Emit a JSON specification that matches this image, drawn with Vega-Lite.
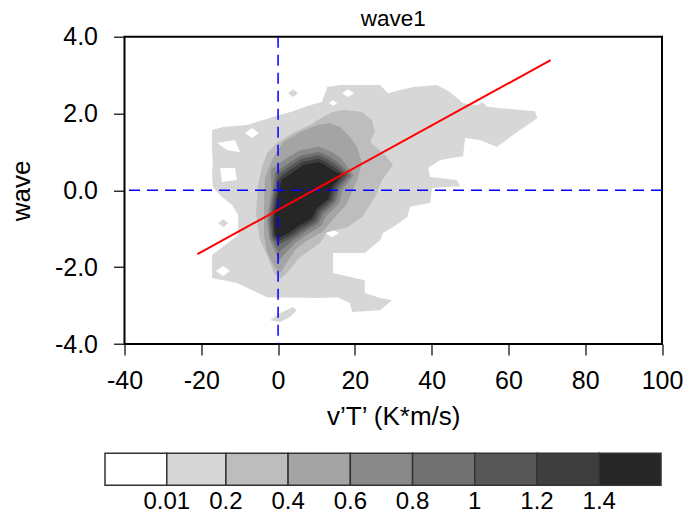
{
  "$schema": "https://vega.github.io/schema/vega-lite/v6.json",
  "width": 537.5,
  "height": 307.3,
  "autosize": {"type": "none"},
  "padding": {"left": 124.5, "top": 36.7, "right": 26, "bottom": 178},
  "background": "white",
  "config": {
    "font": "Liberation Sans",
    "view": {"stroke": "black", "strokeWidth": 2},
    "axis": {"domain": false, "grid": false, "labelFont": "Liberation Sans", "labelFontSize": 25, "labelColor": "black", "titleFont": "Liberation Sans", "titleFontSize": 26, "titleFontWeight": "normal", "titleColor": "black", "tickColor": "black", "tickWidth": 1.2, "labelOverlap": false, "labelFlush": false},
    "legend": {"gradientHorizontalMaxLength": 600, "gradientHorizontalMinLength": 100, "gradientLength": 556, "gradientThickness": 32, "gradientStrokeColor": "#333333", "gradientStrokeWidth": 1.5, "labelOverlap": false}
  },
  "title": {"text": "wave1", "fontSize": 22.5, "fontWeight": "normal", "font": "Liberation Sans", "color": "black", "anchor": "middle", "offset": -6},
  "datasets": {
    "poly": [
      {"p":"a0","lv":0.01,"i":0,"x":-17.2,"y":1.57},{"p":"a0","lv":0.01,"i":1,"x":-14.3,"y":1.65},{"p":"a0","lv":0.01,"i":2,"x":-8.1,"y":1.70},{"p":"a0","lv":0.01,"i":3,"x":-3.9,"y":1.83},{"p":"a0","lv":0.01,"i":4,"x":-0.3,"y":1.94},{"p":"a0","lv":0.01,"i":5,"x":3.9,"y":2.06},{"p":"a0","lv":0.01,"i":6,"x":7.8,"y":2.20},{"p":"a0","lv":0.01,"i":7,"x":11.4,"y":2.30},{"p":"a0","lv":0.01,"i":8,"x":12.8,"y":2.69},{"p":"a0","lv":0.01,"i":9,"x":16.1,"y":2.74},
      {"p":"a0","lv":0.01,"i":10,"x":26.6,"y":2.74},{"p":"a0","lv":0.01,"i":11,"x":28.6,"y":2.53},{"p":"a0","lv":0.01,"i":12,"x":31.8,"y":2.61},{"p":"a0","lv":0.01,"i":13,"x":35.2,"y":2.69},{"p":"a0","lv":0.01,"i":14,"x":41.4,"y":2.74},{"p":"a0","lv":0.01,"i":15,"x":44.8,"y":2.56},{"p":"a0","lv":0.01,"i":16,"x":48.2,"y":2.27},{"p":"a0","lv":0.01,"i":17,"x":57.8,"y":2.14},{"p":"a0","lv":0.01,"i":18,"x":66.9,"y":2.06},{"p":"a0","lv":0.01,"i":19,"x":67.5,"y":1.88},
      {"p":"a0","lv":0.01,"i":20,"x":61.2,"y":1.44},{"p":"a0","lv":0.01,"i":21,"x":57.0,"y":1.13},{"p":"a0","lv":0.01,"i":22,"x":52.6,"y":1.31},{"p":"a0","lv":0.01,"i":23,"x":48.7,"y":1.36},{"p":"a0","lv":0.01,"i":24,"x":48.2,"y":0.89},{"p":"a0","lv":0.01,"i":25,"x":42.2,"y":0.79},{"p":"a0","lv":0.01,"i":26,"x":39.1,"y":0.58},{"p":"a0","lv":0.01,"i":27,"x":39.6,"y":0.35},{"p":"a0","lv":0.01,"i":28,"x":46.6,"y":0.27},{"p":"a0","lv":0.01,"i":29,"x":47.4,"y":0.11},
      {"p":"a0","lv":0.01,"i":30,"x":40.1,"y":0.06},{"p":"a0","lv":0.01,"i":31,"x":39.6,"y":-0.33},{"p":"a0","lv":0.01,"i":32,"x":34.4,"y":-0.43},{"p":"a0","lv":0.01,"i":33,"x":33.6,"y":-0.70},{"p":"a0","lv":0.01,"i":34,"x":29.9,"y":-0.96},{"p":"a0","lv":0.01,"i":35,"x":27.3,"y":-1.11},{"p":"a0","lv":0.01,"i":36,"x":26.6,"y":-1.29},{"p":"a0","lv":0.01,"i":37,"x":22.6,"y":-1.63},{"p":"a0","lv":0.01,"i":38,"x":14.3,"y":-1.63},{"p":"a0","lv":0.01,"i":39,"x":14.3,"y":-2.15},
      {"p":"a0","lv":0.01,"i":40,"x":22.6,"y":-2.34},{"p":"a0","lv":0.01,"i":41,"x":22.6,"y":-2.67},{"p":"a0","lv":0.01,"i":42,"x":26.6,"y":-2.80},{"p":"a0","lv":0.01,"i":43,"x":29.7,"y":-2.86},{"p":"a0","lv":0.01,"i":44,"x":26.6,"y":-3.12},{"p":"a0","lv":0.01,"i":45,"x":19.3,"y":-3.17},{"p":"a0","lv":0.01,"i":46,"x":18.7,"y":-2.93},{"p":"a0","lv":0.01,"i":47,"x":15.4,"y":-2.78},{"p":"a0","lv":0.01,"i":48,"x":10.9,"y":-2.80},{"p":"a0","lv":0.01,"i":49,"x":-2.9,"y":-2.78},
      {"p":"a0","lv":0.01,"i":50,"x":-10.7,"y":-2.41},{"p":"a0","lv":0.01,"i":51,"x":-17.2,"y":-2.28},{"p":"a0","lv":0.01,"i":52,"x":-17.2,"y":-1.68},{"p":"a0","lv":0.01,"i":53,"x":-13.8,"y":-1.42},{"p":"a0","lv":0.01,"i":54,"x":-10.4,"y":-1.16},{"p":"a0","lv":0.01,"i":55,"x":-10.4,"y":-0.64},{"p":"a0","lv":0.01,"i":56,"x":-12.0,"y":-0.38},{"p":"a0","lv":0.01,"i":57,"x":-14.6,"y":-0.17},{"p":"a0","lv":0.01,"i":58,"x":-17.0,"y":0.09},{"p":"a0","lv":0.01,"i":59,"x":-17.2,"y":0.45},
      {"p":"a0","lv":0.01,"i":60,"x":-17.0,"y":0.71},{"p":"a0","lv":0.01,"i":61,"x":-17.2,"y":1.05},
      {"p":"a1","lv":0.01,"i":0,"x":-15.6,"y":-0.85},{"p":"a1","lv":0.01,"i":1,"x":-14.3,"y":-0.75},{"p":"a1","lv":0.01,"i":2,"x":-13.0,"y":-0.85},{"p":"a1","lv":0.01,"i":3,"x":-14.3,"y":-0.96},
      {"p":"a2","lv":0.01,"i":0,"x":2.6,"y":2.53},{"p":"a2","lv":0.01,"i":1,"x":3.9,"y":2.63},{"p":"a2","lv":0.01,"i":2,"x":5.2,"y":2.53},{"p":"a2","lv":0.01,"i":3,"x":3.9,"y":2.43},
      {"p":"a3","lv":0.01,"i":0,"x":52.1,"y":2.22},{"p":"a3","lv":0.01,"i":1,"x":53.1,"y":2.30},{"p":"a3","lv":0.01,"i":2,"x":54.2,"y":2.22},{"p":"a3","lv":0.01,"i":3,"x":53.1,"y":2.14},
      {"p":"a4","lv":0.01,"i":0,"x":-2.1,"y":-3.38},{"p":"a4","lv":0.01,"i":1,"x":0.5,"y":-3.20},{"p":"a4","lv":0.01,"i":2,"x":3.9,"y":-3.04},{"p":"a4","lv":0.01,"i":3,"x":4.9,"y":-3.12},{"p":"a4","lv":0.01,"i":4,"x":3.1,"y":-3.30},{"p":"a4","lv":0.01,"i":5,"x":0.5,"y":-3.43},
      {"p":"b1","lv":0,"i":0,"x":-16.2,"y":-2.10},{"p":"b1","lv":0,"i":1,"x":-14.3,"y":-1.97},{"p":"b1","lv":0,"i":2,"x":-12.5,"y":-2.10},{"p":"b1","lv":0,"i":3,"x":-14.3,"y":-2.23},
      {"p":"b2","lv":0,"i":0,"x":-15.9,"y":1.23},{"p":"b2","lv":0,"i":1,"x":-11.2,"y":1.31},{"p":"b2","lv":0,"i":2,"x":-9.9,"y":0.99},{"p":"b2","lv":0,"i":3,"x":-13.3,"y":1.05},
      {"p":"b3","lv":0,"i":0,"x":-8.6,"y":1.49},{"p":"b3","lv":0,"i":1,"x":-6.8,"y":1.62},{"p":"b3","lv":0,"i":2,"x":-5.0,"y":1.49},{"p":"b3","lv":0,"i":3,"x":-6.8,"y":1.36},
      {"p":"b4","lv":0,"i":0,"x":-15.1,"y":0.58},{"p":"b4","lv":0,"i":1,"x":-11.2,"y":0.58},{"p":"b4","lv":0,"i":2,"x":-10.7,"y":0.27},{"p":"b4","lv":0,"i":3,"x":-14.6,"y":0.22},
      {"p":"b5","lv":0,"i":0,"x":16.7,"y":2.53},{"p":"b5","lv":0,"i":1,"x":18.2,"y":2.63},{"p":"b5","lv":0,"i":2,"x":19.8,"y":2.53},{"p":"b5","lv":0,"i":3,"x":18.2,"y":2.43},
      {"p":"b6","lv":0,"i":0,"x":13.3,"y":2.27},{"p":"b6","lv":0,"i":1,"x":14.3,"y":2.35},{"p":"b6","lv":0,"i":2,"x":15.4,"y":2.27},{"p":"b6","lv":0,"i":3,"x":14.3,"y":2.20},
      {"p":"b7","lv":0,"i":0,"x":12.2,"y":-1.11},{"p":"b7","lv":0,"i":1,"x":14.05,"y":-1.01},{"p":"b7","lv":0,"i":2,"x":15.9,"y":-1.11},{"p":"b7","lv":0,"i":3,"x":14.05,"y":-1.22},
      {"p":"c2","lv":0.2,"i":0,"x":-5.23,"y":0.14},{"p":"c2","lv":0.2,"i":1,"x":-4.19,"y":0.61},{"p":"c2","lv":0.2,"i":2,"x":-2.88,"y":0.97},{"p":"c2","lv":0.2,"i":3,"x":-0.28,"y":1.23},{"p":"c2","lv":0.2,"i":4,"x":3.89,"y":1.49},{"p":"c2","lv":0.2,"i":5,"x":8.32,"y":1.70},{"p":"c2","lv":0.2,"i":6,"x":11.71,"y":1.91},{"p":"c2","lv":0.2,"i":7,"x":14.05,"y":2.04},{"p":"c2","lv":0.2,"i":8,"x":17.44,"y":2.09},{"p":"c2","lv":0.2,"i":9,"x":21.86,"y":2.04},
      {"p":"c2","lv":0.2,"i":10,"x":24.47,"y":1.83},{"p":"c2","lv":0.2,"i":11,"x":25.25,"y":1.52},{"p":"c2","lv":0.2,"i":12,"x":23.95,"y":1.26},{"p":"c2","lv":0.2,"i":13,"x":27.85,"y":0.92},{"p":"c2","lv":0.2,"i":14,"x":29.93,"y":0.66},{"p":"c2","lv":0.2,"i":15,"x":27.08,"y":0.27},{"p":"c2","lv":0.2,"i":16,"x":25.25,"y":-0.17},{"p":"c2","lv":0.2,"i":17,"x":21.86,"y":-0.70},{"p":"c2","lv":0.2,"i":18,"x":17.96,"y":-0.96},{"p":"c2","lv":0.2,"i":19,"x":12.75,"y":-1.09},
      {"p":"c2","lv":0.2,"i":20,"x":10.93,"y":-1.37},{"p":"c2","lv":0.2,"i":21,"x":5.71,"y":-1.74},{"p":"c2","lv":0.2,"i":22,"x":2.33,"y":-2.15},{"p":"c2","lv":0.2,"i":23,"x":0.50,"y":-2.31},{"p":"c2","lv":0.2,"i":24,"x":-1.06,"y":-2.15},{"p":"c2","lv":0.2,"i":25,"x":-2.62,"y":-1.74},{"p":"c2","lv":0.2,"i":26,"x":-4.71,"y":-1.29},{"p":"c2","lv":0.2,"i":27,"x":-5.75,"y":-0.59},
      {"p":"c4","lv":0.4,"i":0,"x":-3.40,"y":0.32},{"p":"c4","lv":0.4,"i":1,"x":-1.58,"y":0.79},{"p":"c4","lv":0.4,"i":2,"x":1.29,"y":1.26},{"p":"c4","lv":0.4,"i":3,"x":5.71,"y":1.52},{"p":"c4","lv":0.4,"i":4,"x":10.14,"y":1.70},{"p":"c4","lv":0.4,"i":5,"x":13.53,"y":1.75},{"p":"c4","lv":0.4,"i":6,"x":16.13,"y":1.65},{"p":"c4","lv":0.4,"i":7,"x":18.74,"y":1.39},{"p":"c4","lv":0.4,"i":8,"x":20.56,"y":1.13},{"p":"c4","lv":0.4,"i":9,"x":21.86,"y":0.71},
      {"p":"c4","lv":0.4,"i":10,"x":20.82,"y":0.35},{"p":"c4","lv":0.4,"i":11,"x":19.26,"y":-0.04},{"p":"c4","lv":0.4,"i":12,"x":17.70,"y":-0.38},{"p":"c4","lv":0.4,"i":13,"x":14.57,"y":-0.72},{"p":"c4","lv":0.4,"i":14,"x":11.45,"y":-1.09},{"p":"c4","lv":0.4,"i":15,"x":7.28,"y":-1.32},{"p":"c4","lv":0.4,"i":16,"x":4.67,"y":-1.53},{"p":"c4","lv":0.4,"i":17,"x":2.33,"y":-1.87},{"p":"c4","lv":0.4,"i":18,"x":0.77,"y":-2.13},{"p":"c4","lv":0.4,"i":19,"x":-0.80,"y":-2.02},
      {"p":"c4","lv":0.4,"i":20,"x":-2.88,"y":-1.61},{"p":"c4","lv":0.4,"i":21,"x":-3.66,"y":-1.16},{"p":"c4","lv":0.4,"i":22,"x":-3.66,"y":-0.38},
      {"p":"c6","lv":0.6,"i":0,"x":-1.81,"y":0.54},{"p":"c6","lv":0.6,"i":1,"x":2.02,"y":0.82},{"p":"c6","lv":0.6,"i":2,"x":5.40,"y":1.03},{"p":"c6","lv":0.6,"i":3,"x":10.48,"y":1.14},{"p":"c6","lv":0.6,"i":4,"x":13.79,"y":1.01},{"p":"c6","lv":0.6,"i":5,"x":16.34,"y":0.84},{"p":"c6","lv":0.6,"i":6,"x":19.70,"y":0.40},{"p":"c6","lv":0.6,"i":7,"x":16.78,"y":0.00},{"p":"c6","lv":0.6,"i":8,"x":15.90,"y":-0.33},{"p":"c6","lv":0.6,"i":9,"x":12.56,"y":-0.66},
      {"p":"c6","lv":0.6,"i":10,"x":11.26,"y":-0.92},{"p":"c6","lv":0.6,"i":11,"x":7.28,"y":-1.17},{"p":"c6","lv":0.6,"i":12,"x":4.23,"y":-1.39},{"p":"c6","lv":0.6,"i":13,"x":0.24,"y":-1.82},{"p":"c6","lv":0.6,"i":14,"x":-2.26,"y":-1.27},{"p":"c6","lv":0.6,"i":15,"x":-2.88,"y":-0.77},{"p":"c6","lv":0.6,"i":16,"x":-2.36,"y":-0.43},{"p":"c6","lv":0.6,"i":17,"x":-1.76,"y":-0.04},
      {"p":"c8","lv":0.8,"i":0,"x":-0.85,"y":0.45},{"p":"c8","lv":0.8,"i":1,"x":2.67,"y":0.70},{"p":"c8","lv":0.8,"i":2,"x":5.79,"y":0.90},{"p":"c8","lv":0.8,"i":3,"x":10.48,"y":1.00},{"p":"c8","lv":0.8,"i":4,"x":13.27,"y":0.89},{"p":"c8","lv":0.8,"i":5,"x":15.69,"y":0.73},{"p":"c8","lv":0.8,"i":6,"x":18.92,"y":0.40},{"p":"c8","lv":0.8,"i":7,"x":15.92,"y":0.03},{"p":"c8","lv":0.8,"i":8,"x":15.04,"y":-0.29},{"p":"c8","lv":0.8,"i":9,"x":11.81,"y":-0.60},
      {"p":"c8","lv":0.8,"i":10,"x":10.51,"y":-0.86},{"p":"c8","lv":0.8,"i":11,"x":6.81,"y":-1.09},{"p":"c8","lv":0.8,"i":12,"x":3.76,"y":-1.31},{"p":"c8","lv":0.8,"i":13,"x":0.11,"y":-1.61},{"p":"c8","lv":0.8,"i":14,"x":-1.87,"y":-1.24},{"p":"c8","lv":0.8,"i":15,"x":-2.39,"y":-0.77},{"p":"c8","lv":0.8,"i":16,"x":-1.87,"y":-0.43},{"p":"c8","lv":0.8,"i":17,"x":-1.27,"y":-0.05},
      {"p":"d0","lv":1.0,"i":0,"x":-0.25,"y":0.39},{"p":"d0","lv":1.0,"i":1,"x":3.11,"y":0.63},{"p":"d0","lv":1.0,"i":2,"x":6.05,"y":0.82},{"p":"d0","lv":1.0,"i":3,"x":10.48,"y":0.92},{"p":"d0","lv":1.0,"i":4,"x":12.90,"y":0.81},{"p":"d0","lv":1.0,"i":5,"x":15.25,"y":0.66},{"p":"d0","lv":1.0,"i":6,"x":18.14,"y":0.40},{"p":"d0","lv":1.0,"i":7,"x":15.27,"y":0.05},{"p":"d0","lv":1.0,"i":8,"x":14.39,"y":-0.27},{"p":"d0","lv":1.0,"i":9,"x":11.24,"y":-0.56},
      {"p":"d0","lv":1.0,"i":10,"x":9.93,"y":-0.82},{"p":"d0","lv":1.0,"i":11,"x":6.44,"y":-1.03},{"p":"d0","lv":1.0,"i":12,"x":3.40,"y":-1.24},{"p":"d0","lv":1.0,"i":13,"x":0.06,"y":-1.42},{"p":"d0","lv":1.0,"i":14,"x":-1.50,"y":-1.22},{"p":"d0","lv":1.0,"i":15,"x":-1.94,"y":-0.77},{"p":"d0","lv":1.0,"i":16,"x":-1.42,"y":-0.43},{"p":"d0","lv":1.0,"i":17,"x":-0.82,"y":-0.06},
      {"p":"d2","lv":1.2,"i":0,"x":0.35,"y":0.33},{"p":"d2","lv":1.2,"i":1,"x":3.53,"y":0.56},{"p":"d2","lv":1.2,"i":2,"x":6.31,"y":0.74},{"p":"d2","lv":1.2,"i":3,"x":10.48,"y":0.83},{"p":"d2","lv":1.2,"i":4,"x":12.56,"y":0.74},{"p":"d2","lv":1.2,"i":5,"x":14.83,"y":0.58},{"p":"d2","lv":1.2,"i":6,"x":17.36,"y":0.40},{"p":"d2","lv":1.2,"i":7,"x":14.62,"y":0.07},{"p":"d2","lv":1.2,"i":8,"x":13.74,"y":-0.24},{"p":"d2","lv":1.2,"i":9,"x":10.64,"y":-0.51},
      {"p":"d2","lv":1.2,"i":10,"x":9.34,"y":-0.77},{"p":"d2","lv":1.2,"i":11,"x":6.08,"y":-0.97},{"p":"d2","lv":1.2,"i":12,"x":3.03,"y":-1.18},{"p":"d2","lv":1.2,"i":13,"x":0.06,"y":-1.33},{"p":"d2","lv":1.2,"i":14,"x":-1.16,"y":-1.19},{"p":"d2","lv":1.2,"i":15,"x":-1.50,"y":-0.77},{"p":"d2","lv":1.2,"i":16,"x":-0.98,"y":-0.43},{"p":"d2","lv":1.2,"i":17,"x":-0.38,"y":-0.07},
      {"p":"d4","lv":1.4,"i":0,"x":0.95,"y":0.27},{"p":"d4","lv":1.4,"i":1,"x":3.97,"y":0.48},{"p":"d4","lv":1.4,"i":2,"x":6.57,"y":0.66},{"p":"d4","lv":1.4,"i":3,"x":10.48,"y":0.74},{"p":"d4","lv":1.4,"i":4,"x":12.23,"y":0.66},{"p":"d4","lv":1.4,"i":5,"x":14.39,"y":0.51},{"p":"d4","lv":1.4,"i":6,"x":16.58,"y":0.40},{"p":"d4","lv":1.4,"i":7,"x":13.97,"y":0.09},{"p":"d4","lv":1.4,"i":8,"x":13.09,"y":-0.21},{"p":"d4","lv":1.4,"i":9,"x":10.06,"y":-0.47},
      {"p":"d4","lv":1.4,"i":10,"x":8.76,"y":-0.73},{"p":"d4","lv":1.4,"i":11,"x":5.71,"y":-0.90},{"p":"d4","lv":1.4,"i":12,"x":2.67,"y":-1.12},{"p":"d4","lv":1.4,"i":13,"x":0.06,"y":-1.25},{"p":"d4","lv":1.4,"i":14,"x":-0.80,"y":-1.16},{"p":"d4","lv":1.4,"i":15,"x":-1.06,"y":-0.77},{"p":"d4","lv":1.4,"i":16,"x":-0.54,"y":-0.43},{"p":"d4","lv":1.4,"i":17,"x":0.06,"y":-0.08}
    ]
  },
  "layer": [
    {
      "data": {"name": "poly"},
      "encoding": {
        "x": {"field": "x", "type": "quantitative", "scale": {"domain": [-40, 100], "nice": false, "zero": false},
              "axis": {"title": "v’T’ (K*m/s)", "values": [-40,-35,-30,-25,-20,-15,-10,-5,0,5,10,15,20,25,30,35,40,45,50,55,60,65,70,75,80,85,90,95,100],
                       "labelExpr": "datum.value % 20 == 0 ? (datum.value < 0 ? '-' : '') + abs(datum.value) : ''",
                       "tickSize": {"condition": {"test": "datum.value % 20 == 0", "value": 11}, "value": 6},
                       "labelPadding": 13, "titlePadding": 10}},
        "y": {"field": "y", "type": "quantitative", "scale": {"domain": [-4, 4], "nice": false, "zero": false},
              "axis": {"title": "wave", "values": [-4,-3.5,-3,-2.5,-2,-1.5,-1,-0.5,0,0.5,1,1.5,2,2.5,3,3.5,4],
                       "labelExpr": "datum.value % 2 == 0 ? (datum.value < 0 ? '-' : '') + format(abs(datum.value), '.1f') : ''",
                       "tickSize": {"condition": {"test": "datum.value % 2 == 0", "value": 11}, "value": 6},
                       "labelPadding": 16, "titlePadding": 20}},
        "color": {"field": "lv", "type": "quantitative",
                  "scale": {"type": "threshold", "domain": [0.01, 0.2, 0.4, 0.6, 0.8, 1, 1.2, 1.4],
                            "range": ["#ffffff", "#d7d7d7", "#bdbdbd", "#a4a4a4", "#8a8a8a", "#717171", "#575757", "#3e3e3e", "#262626"]},
                  "legend": {"type": "gradient", "orient": "none", "legendX": -19.5, "legendY": 416.6, "direction": "horizontal", "gradientLength": 556, "gradientThickness": 32,
                             "title": null, "padding": 0, "labelFont": "Liberation Sans", "labelFontSize": 24, "labelColor": "black",
                             "gradientStrokeColor": "#333333", "gradientStrokeWidth": 1.5, "labelOffset": 5, "labelOverlap": false,
                             "labelExpr": "isFinite(datum.value) ? format(datum.value, '~g') : ''"}},
        "detail": {"field": "p"},
        "order": {"field": "i", "type": "quantitative"}
      },
      "layer": [
        {"transform": [{"filter": "datum.lv == 0.01"}], "mark": {"type": "line", "filled": true}},
        {"transform": [{"filter": "datum.lv == 0"}], "mark": {"type": "line", "filled": true}},
        {"transform": [{"filter": "datum.lv >= 0.2"}], "mark": {"type": "line", "filled": true}}
      ]
    },
    {
      "data": {"values": [{"x": 0}]},
      "mark": {"type": "rule", "color": "#0000ff", "strokeWidth": 1.5, "strokeDash": [11, 7]},
      "encoding": {"x": {"field": "x", "type": "quantitative"}}
    },
    {
      "data": {"values": [{"y": 0}]},
      "mark": {"type": "rule", "color": "#0000ff", "strokeWidth": 1.5, "strokeDash": [11, 7]},
      "encoding": {"y": {"field": "y", "type": "quantitative"}}
    },
    {
      "data": {"values": [{"x": -21.0, "y": -1.66}, {"x": 71.0, "y": 3.39}]},
      "mark": {"type": "line", "color": "#ff0000", "strokeWidth": 2},
      "encoding": {"x": {"field": "x", "type": "quantitative"}, "y": {"field": "y", "type": "quantitative"}}
    }
  ]
}
